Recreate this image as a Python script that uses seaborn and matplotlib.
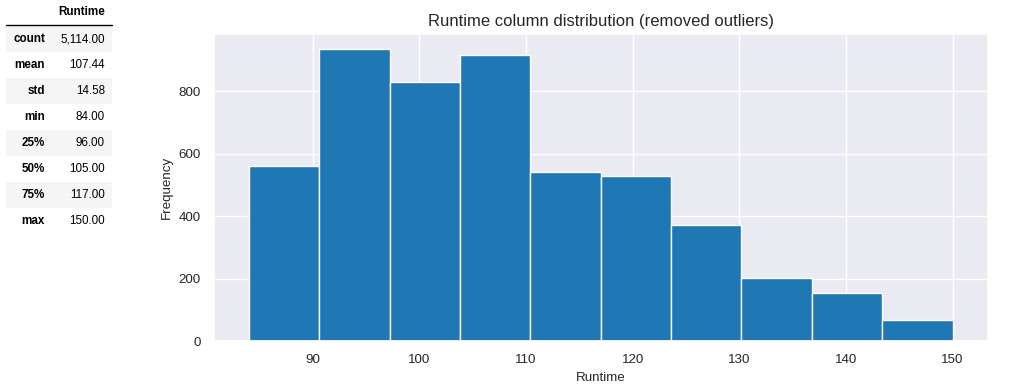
import numpy as np
import pandas as pd
import matplotlib
matplotlib.use("Agg")
import matplotlib.pyplot as plt
from matplotlib.patches import Rectangle
import seaborn as sns

# ---- data ----
stat_names = ["count", "mean", "std", "min", "25%", "50%", "75%", "max"]
stat_values = ["5,114.00", "107.44", "14.58", "84.00", "96.00", "105.00", "117.00", "150.00"]
runtime_min, runtime_max = 84.0, 150.0
bin_counts = [562, 937, 831, 917, 543, 528, 371, 202, 155, 68]

sns.set_theme(style="darkgrid")
plt.rcParams['font.family'] = ['Liberation Sans', 'DejaVu Sans']

W, H = 1018, 387
fig = plt.figure(figsize=(W / 100, H / 100), dpi=100)

def fx(px):
    return px / W

def fy(py):
    return 1 - py / H

# ---- summary table drawn on the figure ----
fig.text(fx(105), fy(12), "Runtime", ha="right", va="center", fontsize=8.4,
         fontweight="bold", color="black")
fig.add_artist(plt.Line2D([fx(6), fx(112)], [fy(25), fy(25)], color="black", lw=1,
                          transform=fig.transFigure))
row_h = 26
for i, (name, val) in enumerate(zip(stat_names, stat_values)):
    top = 26 + i * row_h
    cy = top + row_h / 2
    if i % 2 == 0:
        fig.add_artist(Rectangle((fx(6), fy(top + row_h)), fx(112) - fx(6), row_h / H,
                                 transform=fig.transFigure, facecolor="#f5f5f5",
                                 edgecolor="none", zorder=0))
    fig.text(fx(45), fy(cy), name, ha="right", va="center", fontsize=8.4,
             fontweight="bold", color="black")
    fig.text(fx(105), fy(cy), val, ha="right", va="center", fontsize=8.4, color="black")

# ---- histogram ----
ax = fig.add_axes([213.7 / W, 1 - 341 / H, (987.7 - 213.7) / W, (341 - 34) / H])
nbins = len(bin_counts)
edges = np.linspace(runtime_min, runtime_max, nbins + 1)
centers = (edges[:-1] + edges[1:]) / 2
df = pd.DataFrame({"Runtime": centers, "count": bin_counts})
sns.histplot(data=df, x="Runtime", weights="count", bins=nbins,
             binrange=(runtime_min, runtime_max), ax=ax, color="#1f77b4",
             alpha=1, edgecolor="white", linewidth=1)
ax.set_xticks([90, 100, 110, 120, 130, 140, 150])
ax.set_yticks([0, 200, 400, 600, 800])
ax.tick_params(labelsize=9.6, colors="#262626")
ax.set_xlabel("Runtime", fontsize=9.6, color="#262626")
ax.set_ylabel("Frequency", fontsize=9.6, color="#262626")
ax.set_title("Runtime column distribution (removed outliers)", fontsize=12, color="#262626")

fig.savefig("out.png", dpi=100)
